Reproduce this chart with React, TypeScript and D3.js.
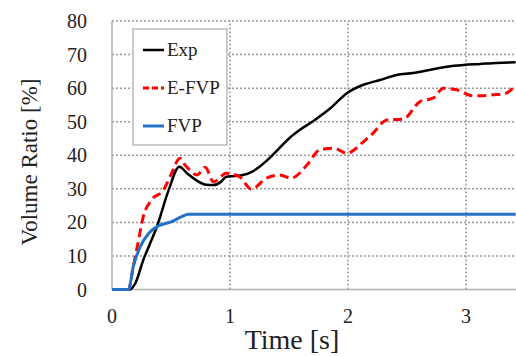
import * as d3 from "d3";

const expTime = [0, 0.15, 0.2, 0.265, 0.32, 0.38, 0.48, 0.57, 0.64, 0.72, 0.8, 0.86, 0.92, 0.97, 1.04, 1.11, 1.18, 1.25, 1.33, 1.42, 1.5, 1.59, 1.71, 1.85, 1.99, 2.13, 2.27, 2.41, 2.55, 2.7, 2.84, 2.98, 3.12, 3.26, 3.42];
const expValues = [0, 0, 2, 8.8, 13.5, 18.7, 29.6, 36.6, 34.5, 32.4, 31.2, 31.1, 32, 33.6, 33.8, 34.1, 35, 36.6, 39, 42.2, 45, 47.5, 50.3, 54, 58.5, 61, 62.4, 63.9, 64.5, 65.5, 66.4, 66.9, 67.2, 67.5, 67.7];

const efvpTime = [0, 0.14, 0.18, 0.22, 0.265, 0.335, 0.435, 0.505, 0.576, 0.62, 0.66, 0.72, 0.79, 0.86, 0.97, 1.08, 1.18, 1.31, 1.42, 1.52, 1.65, 1.76, 1.88, 1.99, 2.13, 2.21, 2.33, 2.47, 2.61, 2.72, 2.81, 2.92, 3.06, 3.23, 3.34, 3.42];
const efvpValues = [0, 0, 6.8, 13.8, 21.7, 26.7, 29.6, 34.6, 39.1, 37, 35.6, 34.1, 36.4, 32.1, 34.6, 33.6, 29.9, 33.2, 34.1, 33.2, 37, 41.6, 42.1, 40.6, 44, 46.5, 50.5, 50.8, 56, 57, 60, 59.5, 57.7, 58, 58.5, 61];

const fvpTime = [0, 0.14, 0.18, 0.24, 0.31, 0.38, 0.505, 0.59, 0.65, 1.0, 1.5, 2.0, 2.5, 3.0, 3.42];
const fvpValues = [0, 0, 6.8, 12.8, 16.7, 18.7, 20.2, 21.7, 22.4, 22.4, 22.4, 22.4, 22.4, 22.4, 22.4];

const yTicks = [0, 10, 20, 30, 40, 50, 60, 70, 80];
const xTicks = [0, 1, 2, 3];

const series = [
  { name: "Exp", time: expTime, values: expValues, color: "#000000", width: 2.5, dash: "" },
  { name: "E-FVP", time: efvpTime, values: efvpValues, color: "#ff0000", width: 3, dash: "9,5" },
  { name: "FVP", time: fvpTime, values: fvpValues, color: "#2273c3", width: 3, dash: "" },
];

const FONT = "'Liberation Serif', 'Times New Roman', serif";

export default function App() {
  const x = d3.scaleLinear().domain([0, 3.42]).range([112, 515.6]);
  const y = d3.scaleLinear().domain([0, 80]).range([289.5, 21]);

  const line = d3
    .line<[number, number]>()
    .x((d) => x(d[0]))
    .y((d) => y(d[1]))
    .curve(d3.curveMonotoneX);

  return (
    <svg
      width={516}
      height={356}
      style={{ position: "absolute", left: 0, top: 0, background: "#fff" }}
      fontFamily={FONT}
    >
      {/* grid */}
      {yTicks.slice(1).map((t) => (
        <line key={"gy" + t} x1={x(0)} x2={516} y1={y(t)} y2={y(t)} stroke="#999" strokeWidth={1.5} strokeDasharray="2,2" />
      ))}
      {xTicks.slice(1).map((t) => (
        <line key={"gx" + t} x1={x(t)} x2={x(t)} y1={y(0)} y2={y(80)} stroke="#999" strokeWidth={1.5} strokeDasharray="2,2" />
      ))}
      {/* axes */}
      <line x1={x(0)} x2={x(0)} y1={y(0)} y2={y(80)} stroke="#b0b0b0" strokeWidth={1.5} />
      <line x1={x(0)} x2={516} y1={y(0)} y2={y(0)} stroke="#b0b0b0" strokeWidth={1.5} />

      {/* tick labels */}
      {yTicks.map((t) => (
        <text key={"ty" + t} x={87} y={y(t) + 7} textAnchor="end" fontSize={20} fill="#222">
          {t}
        </text>
      ))}
      {xTicks.map((t) => (
        <text key={"tx" + t} x={x(t)} y={323} textAnchor="middle" fontSize={20} fill="#222">
          {t}
        </text>
      ))}

      {/* axis titles */}
      <text transform="translate(37,162) rotate(-90)" textAnchor="middle" fontSize={23} fill="#222">
        Volume Ratio [%]
      </text>
      <text x={292} y={349} textAnchor="middle" fontSize={28} fill="#222">
        Time [s]
      </text>

      {/* data */}
      {series.map((s) => (
        <path
          key={s.name}
          d={line(s.time.map((t, i) => [t, s.values[i]] as [number, number])) ?? ""}
          fill="none"
          stroke={s.color}
          strokeWidth={s.width}
          strokeDasharray={s.dash || undefined}
        />
      ))}

      {/* legend */}
      <rect x={133} y={29} width={94} height={116} fill="#fff" stroke="#bbb" strokeWidth={1.5} />
      {series.map((s, i) => (
        <g key={"lg" + s.name}>
          <line
            x1={143}
            x2={164}
            y1={50 + i * 38}
            y2={50 + i * 38}
            stroke={s.color}
            strokeWidth={s.width}
            strokeDasharray={s.dash ? "6,3" : undefined}
          />
          <text x={167} y={56 + i * 38} fontSize={19} fill="#222">
            {s.name}
          </text>
        </g>
      ))}
    </svg>
  );
}
